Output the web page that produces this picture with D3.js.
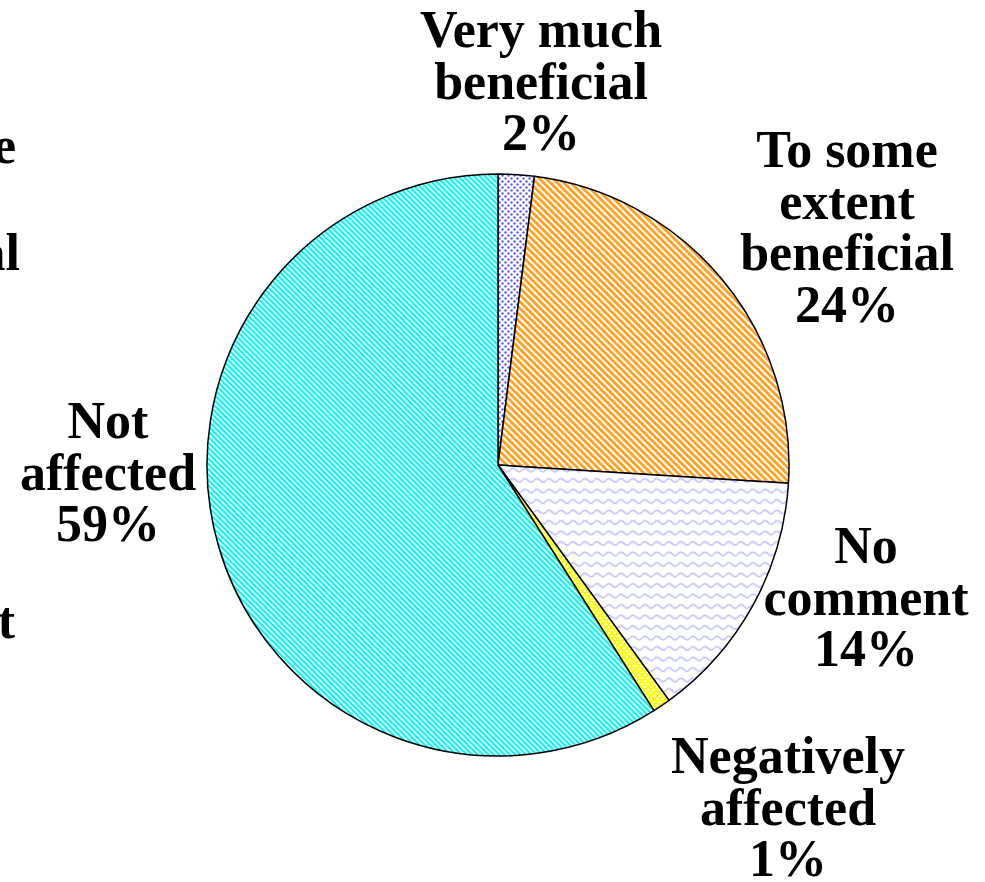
<!DOCTYPE html>
<html>
<head>
<meta charset="utf-8">
<script src="https://cdn.jsdelivr.net/npm/d3@7"></script>
<style>
  html, body { margin: 0; padding: 0; background: #ffffff; }
  svg { display: block; }
</style>
</head>
<body>
<div id="chart"></div>
<script>
// Survey responses: how respondents were affected
const categories = ["Very much beneficial", "To some extent beneficial", "No comment", "Negatively affected", "Not affected"];
const labelLines = [
  ["Very much", "beneficial"],
  ["To some", "extent", "beneficial"],
  ["No", "comment"],
  ["Negatively", "affected"],
  ["Not", "affected"]
];
const percents = [2, 24, 14, 1, 59];
// Partial labels of a neighbouring chart, cut off at the left edge
const edgeTexts = ["e", "al", "t"];

// ---- layout ----
const W = 985, H = 882;
const cx = 498, cy = 465, R = 291;
const fontSize = 52, lineStep = 51.7;
// label block centres (x) and first baselines (y)
const labelAnchors = [
  [541, 47],
  [847, 167],
  [866, 563],
  [788, 773],
  [108, 438]
];
const edgeAnchors = [[16, 163], [20, 270], [15, 638]];
const patternIds = ["pDots", "pOrange", "pWave", "pYellow", "pCyan"];

const svg = d3.select("#chart").append("svg")
  .attr("width", W).attr("height", H)
  .attr("viewBox", `0 0 ${W} ${H}`);

svg.append("rect").attr("width", W).attr("height", H).attr("fill", "#ffffff");

const defs = svg.append("defs");

// blue dots on white
const pd = defs.append("pattern").attr("id", "pDots")
  .attr("patternUnits", "userSpaceOnUse").attr("width", 6).attr("height", 6);
pd.append("rect").attr("width", 6).attr("height", 6).attr("fill", "#ffffff");
pd.append("circle").attr("cx", 1.5).attr("cy", 1.5).attr("r", 1.2).attr("fill", "#5a5aff");
pd.append("circle").attr("cx", 4.5).attr("cy", 4.5).attr("r", 1.2).attr("fill", "#5a5aff");

// orange diagonal stripes
const po = defs.append("pattern").attr("id", "pOrange")
  .attr("patternUnits", "userSpaceOnUse").attr("width", 4.8).attr("height", 10)
  .attr("patternTransform", "rotate(-45)");
po.append("rect").attr("width", 4.8).attr("height", 10).attr("fill", "#ffffff");
po.append("rect").attr("width", 2.8).attr("height", 10).attr("fill", "#ffa020");

// cyan diagonal stripes
const pc = defs.append("pattern").attr("id", "pCyan")
  .attr("patternUnits", "userSpaceOnUse").attr("width", 3.8).attr("height", 10)
  .attr("patternTransform", "rotate(-45)");
pc.append("rect").attr("width", 3.8).attr("height", 10).attr("fill", "#ffffff");
pc.append("rect").attr("width", 2.3).attr("height", 10).attr("fill", "#10f2f2");

// lavender waves
const pw = defs.append("pattern").attr("id", "pWave")
  .attr("patternUnits", "userSpaceOnUse").attr("width", 12).attr("height", 10.5);
pw.append("rect").attr("width", 12).attr("height", 10.5).attr("fill", "#ffffff");
pw.append("path")
  .attr("d", "M0,5 Q3,1.5 6,5 T12,5")
  .attr("fill", "none").attr("stroke", "#c4c4ff").attr("stroke-width", 1.8);

// yellow cross-hatch
const py = defs.append("pattern").attr("id", "pYellow")
  .attr("patternUnits", "userSpaceOnUse").attr("width", 6).attr("height", 6);
py.append("rect").attr("width", 6).attr("height", 6).attr("fill", "#ffffff");
py.append("path")
  .attr("d", "M-1,1 L1,-1 M0,6 L6,0 M5,7 L7,5 M-1,5 L1,7 M0,0 L6,6 M5,-1 L7,1")
  .attr("stroke", "#ffff00").attr("stroke-width", 2.2);

// ---- pie ----
const pie = d3.pie().sort(null).value(d => d).startAngle(0).endAngle(2 * Math.PI);
const arc = d3.arc().innerRadius(0).outerRadius(R);
const arcs = pie(percents);

const g = svg.append("g").attr("transform", `translate(${cx},${cy})`);
g.selectAll("path.slice")
  .data(arcs)
  .join("path")
  .attr("class", "slice")
  .attr("d", arc)
  .attr("fill", (d, i) => `url(#${patternIds[i]})`)
  .attr("stroke", "#000000")
  .attr("stroke-width", 1.5)
  .attr("stroke-linejoin", "round");

// ---- labels ----
const labels = svg.append("g")
  .attr("font-family", "'Liberation Serif', 'Times New Roman', serif")
  .attr("font-weight", "bold")
  .attr("font-size", fontSize)
  .attr("fill", "#000000")
  .attr("text-anchor", "middle");

categories.forEach((c, i) => {
  const lines = labelLines[i].concat([percents[i] + "%"]);
  const [x, y] = labelAnchors[i];
  const t = labels.append("text").attr("x", x).attr("y", y);
  lines.forEach((ln, k) => {
    t.append("tspan").attr("x", x).attr("y", y + k * lineStep).text(ln);
  });
});

edgeTexts.forEach((s, i) => {
  labels.append("text")
    .attr("x", edgeAnchors[i][0]).attr("y", edgeAnchors[i][1])
    .attr("text-anchor", "end")
    .text(s);
});
</script>
</body>
</html>
